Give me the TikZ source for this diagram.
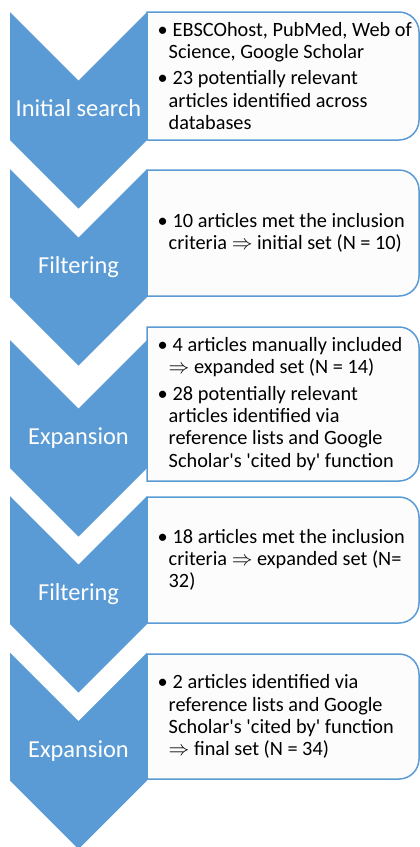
\documentclass[tikz,border=0pt]{standalone}
\usepackage{fontspec}
\setmainfont{Carlito}
\definecolor{blu}{RGB}{91,155,213}
\definecolor{fondo}{RGB}{252,252,252}
\newcommand{\pnt}{\makebox[15pt][l]{\textbullet}} % punto elenco
\newcommand{\rient}{\hspace*{11pt}} % rientro righe successive

\begin{document}
\begin{tikzpicture}[x=1pt,y=-1pt,
    freccia/.style={fill=blu},
    riquadro/.style={draw=blu,line width=1.5pt,fill=fondo},
    etichetta/.style={text=white,font=\fontsize{24.4}{28}\selectfont,
      anchor=base,inner sep=0pt},
    testo/.style={anchor=west,align=left,inner sep=0pt,
      font=\fontsize{20.3}{22.3}\selectfont}]
\pgfmathsetmacro{\xs}{10}     % bordo sinistro freccia
\pgfmathsetmacro{\xd}{147}    % bordo destro freccia
\pgfmathsetmacro{\xm}{78.5}   % asse della freccia
\pgfmathsetmacro{\mezza}{64}  % mezza altezza del corpo
\pgfmathsetmacro{\punta}{68.5} % profondita della punta

\useasboundingbox (0,0) rectangle (420,847);

\foreach \a/\b in {12/140,170/296,327/481,497/623,654/779} % riquadri
  \draw[riquadro] (\xd,\b) -- (\xd,\a) [rounded corners=20pt] -- (419,\a)
        -- (419,\b) [sharp corners] -- cycle;

\foreach \n/\c/\nome in {1/76/Initial search,2/233/Filtering,
    3/404/Expansion,4/560/Filtering,5/716.5/Expansion} { % frecce
  \fill[freccia] (\xs,\c-\mezza) -- (\xm,\c-\mezza+\punta) -- (\xd,\c-\mezza)
        -- (\xd,\c+\mezza) -- (\xm,\c+\mezza+\punta) -- (\xs,\c+\mezza) -- cycle;
  \node[etichetta] (c\n) at (\xm,\c+40.5) {\nome};
}

\node[testo] (t1) at (157.5,76) {\pnt EBSCOhost, PubMed, Web of\\
  \rient Science, Google Scholar\\[4pt]
  \pnt 23 potentially relevant\\ \rient articles identified across\\
  \rient databases};
\node[testo] (t2) at (157.5,233) {\pnt 10 articles met the inclusion\\
  \rient criteria \smash{$\Rightarrow$} initial set (N = 10)};
\node[testo] (t3) at (157.5,404) {\pnt 4 articles manually included\\
  \rient \smash{$\Rightarrow$} expanded set (N = 14)\\[4pt]
  \pnt 28 potentially relevant\\ \rient articles identified via\\
  \rient reference lists and Google\\
  \rient Scholar\textquotesingle s \textquotesingle cited by\textquotesingle\ function};
\node[testo] (t4) at (157.5,560) {\pnt 18 articles met the inclusion\\
  \rient criteria \smash{$\Rightarrow$} expanded set (N=\\ \rient 32)};
\node[testo] (t5) at (157.5,716.5) {\pnt 2 articles identified via\\
  \rient reference lists and Google\\
  \rient Scholar\textquotesingle s \textquotesingle cited by\textquotesingle\ function\\
  \rient \smash{$\Rightarrow$} final set (N = 34)};
\end{tikzpicture}
\end{document}
